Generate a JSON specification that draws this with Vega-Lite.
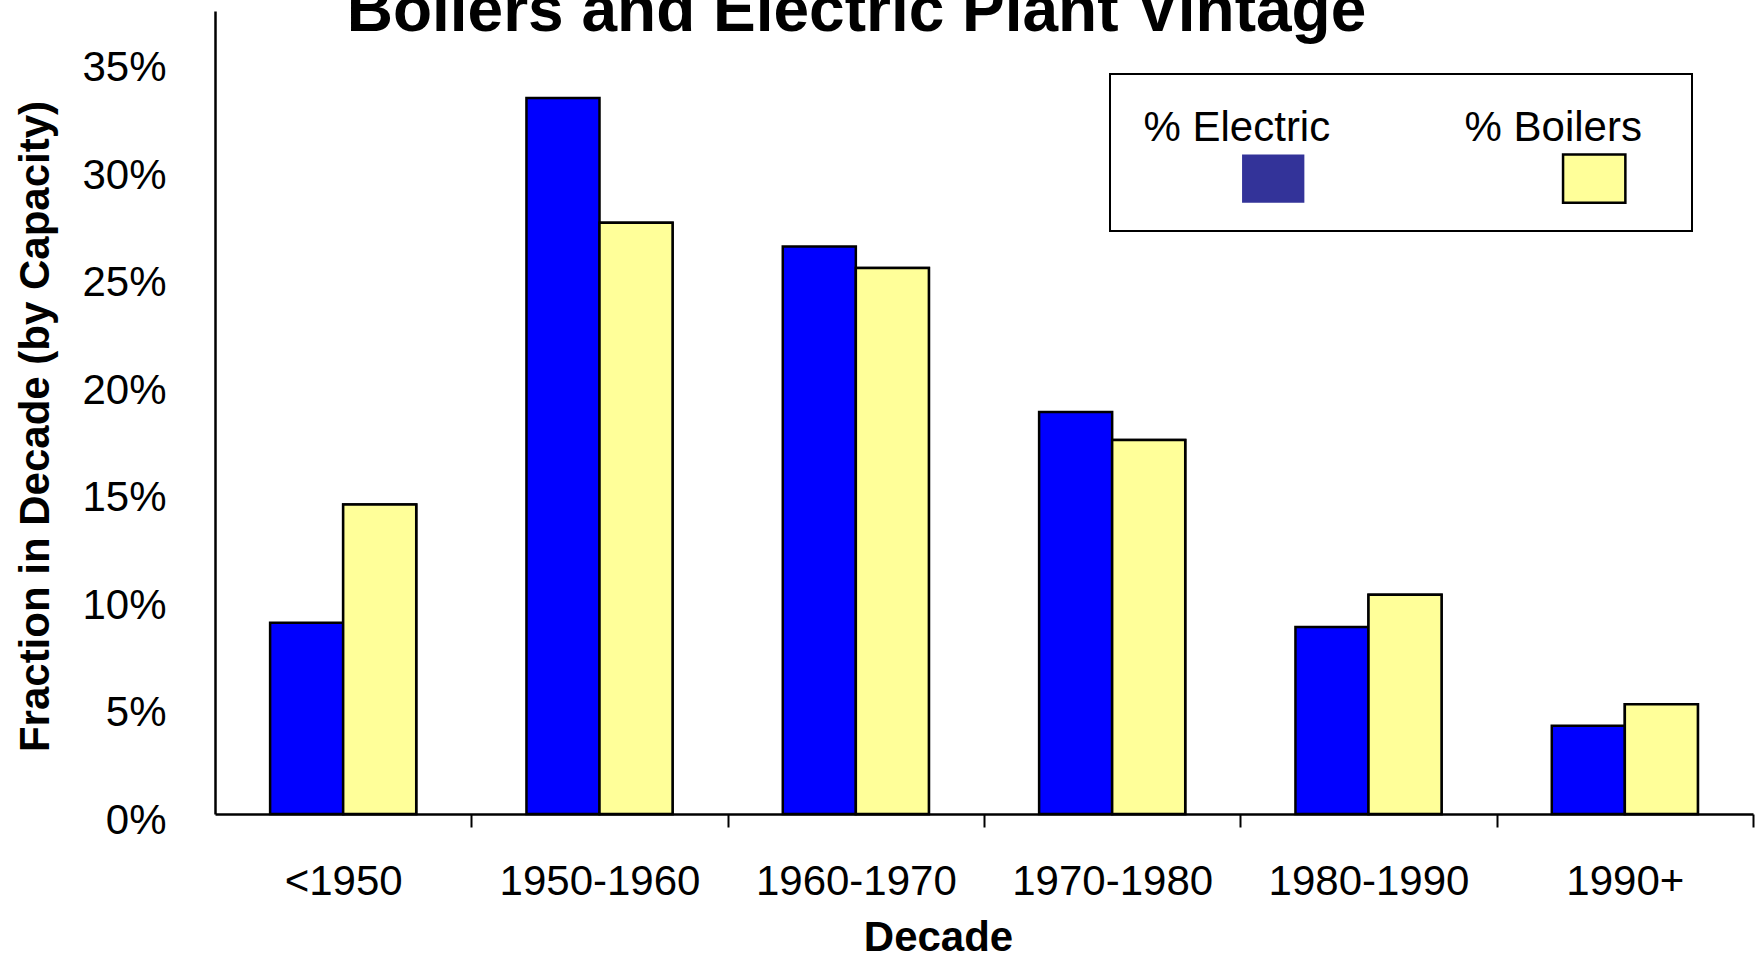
{
  "$schema": "https://vega.github.io/schema/vega-lite/v6.json",
  "autosize": {"type": "none"},
  "width": 1538,
  "height": 803,
  "padding": {"left": 215, "top": 11, "right": 4, "bottom": 142},
  "background": "white",
  "data": {
    "values": [
      {"decade": "<1950", "series": "% Electric", "value": 0.089},
      {"decade": "<1950", "series": "% Boilers", "value": 0.144},
      {"decade": "1950-1960", "series": "% Electric", "value": 0.333},
      {"decade": "1950-1960", "series": "% Boilers", "value": 0.275},
      {"decade": "1960-1970", "series": "% Electric", "value": 0.264},
      {"decade": "1960-1970", "series": "% Boilers", "value": 0.254},
      {"decade": "1970-1980", "series": "% Electric", "value": 0.187},
      {"decade": "1970-1980", "series": "% Boilers", "value": 0.174},
      {"decade": "1980-1990", "series": "% Electric", "value": 0.087},
      {"decade": "1980-1990", "series": "% Boilers", "value": 0.102},
      {"decade": "1990+", "series": "% Electric", "value": 0.041},
      {"decade": "1990+", "series": "% Boilers", "value": 0.051}
    ]
  },
  "encoding": {
    "xOffset": {"field": "series", "type": "nominal", "sort": ["% Electric", "% Boilers"]},
    "y": {
      "field": "value",
      "type": "quantitative",
      "scale": {"domain": [0, 0.3735], "nice": false, "zero": true},
      "axis": {
        "title": "Fraction in Decade (by Capacity)",
        "format": ".0%",
        "values": [0, 0.05, 0.1, 0.15, 0.2, 0.25, 0.3, 0.35],
        "grid": false,
        "ticks": false,
        "tickSize": 0,
        "domainColor": "black",
        "domainWidth": 2.5,
        "labelPadding": 49,
        "labelOffset": 6,
        "labelFont": "Liberation Sans",
        "labelFontSize": 42,
        "labelColor": "black",
        "titleFont": "Liberation Sans",
        "titleFontSize": 42,
        "titleFontWeight": "bold",
        "titleColor": "black",
        "titleAngle": -90,
        "titleX": -167,
        "titleY": 415,
        "titleBaseline": "alphabetic",
        "titleAlign": "center"
      }
    }
  },
  "layer": [
    {
      "mark": {"type": "bar", "strokeWidth": 2.5},
      "encoding": {
        "x": {
          "field": "decade",
          "type": "nominal",
          "sort": ["<1950", "1950-1960", "1960-1970", "1970-1980", "1980-1990", "1990+"],
          "scale": {"paddingInner": 0.43, "paddingOuter": 0.215},
          "axis": {
            "orient": "top",
            "title": "Boilers and Electric Plant Vintage",
            "labels": false,
            "ticks": false,
            "domain": false,
            "grid": false,
            "titleFont": "Liberation Sans",
            "titleFontSize": 64,
            "titleFontWeight": "bold",
            "titleColor": "black",
            "titleX": 641,
            "titleY": 19,
            "titleBaseline": "alphabetic",
            "titleAlign": "center"
          }
        },
        "fill": {
          "field": "series",
          "type": "nominal",
          "scale": {"domain": ["% Electric", "% Boilers"], "range": ["#333399", "#FFFF99"]},
          "legend": {
            "title": " ",
            "titleOrient": "right",
            "titleFontSize": 1,
            "titlePadding": 31,
            "orient": "none",
            "legendX": 895,
            "legendY": 63,
            "direction": "horizontal",
            "strokeColor": "black",
            "padding": 19,
            "columnPadding": 119,
            "symbolType": "M2.33,0.78H4.19V2.22H2.33ZM3.2,2.33",
            "symbolSize": 4489,
            "symbolStrokeWidth": 2.5,
            "labelFont": "Liberation Sans",
            "labelFontSize": 42,
            "labelColor": "black",
            "labelAlign": "left",
            "labelBaseline": "middle",
            "labelOffset": -55.5,
            "labelLimit": 400
          }
        },
        "stroke": {
          "field": "series",
          "type": "nominal",
          "scale": {"domain": ["% Electric", "% Boilers"], "range": ["transparent", "black"]},
          "legend": {
            "title": " ",
            "titleOrient": "right",
            "titleFontSize": 1,
            "titlePadding": 31,
            "orient": "none",
            "legendX": 895,
            "legendY": 63,
            "direction": "horizontal",
            "strokeColor": "black",
            "padding": 19,
            "columnPadding": 119,
            "symbolType": "M2.33,0.78H4.19V2.22H2.33ZM3.2,2.33",
            "symbolSize": 4489,
            "symbolStrokeWidth": 2.5,
            "labelFont": "Liberation Sans",
            "labelFontSize": 42,
            "labelColor": "black",
            "labelAlign": "left",
            "labelBaseline": "middle",
            "labelOffset": -55.5,
            "labelLimit": 400
          }
        }
      }
    },
    {
      "mark": {"type": "bar", "stroke": "black", "strokeWidth": 2.5},
      "encoding": {
        "x": {
          "field": "decade",
          "type": "nominal",
          "sort": ["<1950", "1950-1960", "1960-1970", "1970-1980", "1980-1990", "1990+"],
          "scale": {"paddingInner": 0.43, "paddingOuter": 0.215},
          "axis": {
            "orient": "bottom",
            "title": "Decade",
            "labelAngle": 0,
            "domainColor": "black",
            "domainWidth": 2.5,
            "tickColor": "black",
            "tickWidth": 2,
            "tickSize": 13,
            "tickOffset": 128,
            "labelOffset": -128,
            "labelPadding": 67,
            "labelBaseline": "alphabetic",
            "labelLimit": 400,
            "labelFont": "Liberation Sans",
            "labelFontSize": 42,
            "labelColor": "black",
            "titleFont": "Liberation Sans",
            "titleFontSize": 42,
            "titleFontWeight": "bold",
            "titleColor": "black",
            "titleX": 723,
            "titleY": 136,
            "titleBaseline": "alphabetic",
            "titleAlign": "center"
          }
        },
        "color": {
          "field": "series",
          "type": "nominal",
          "scale": {"domain": ["% Electric", "% Boilers"], "range": ["#0000FF", "#FFFF99"]},
          "legend": null
        }
      }
    }
  ],
  "config": {
    "view": {"stroke": null},
    "legend": {"strokeWidth": 2}
  }
}
